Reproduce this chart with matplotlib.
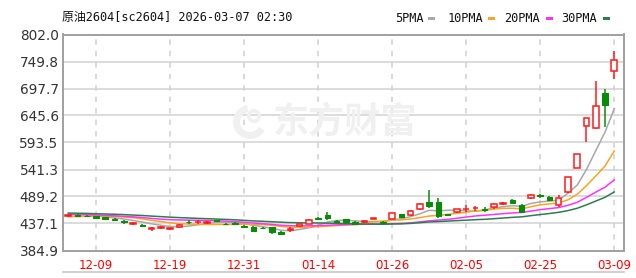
import numpy as np
import pandas as pd
import matplotlib
matplotlib.use("Agg")
import matplotlib.pyplot as plt
from matplotlib.patches import Rectangle, Arc, Wedge

# ---------------- data ----------------
title = "原油2604[sc2604] 2026-03-07 02:30"
tick_labels = ["12-09", "12-19", "12-31", "01-14", "01-26", "02-05", "02-25", "03-09"]
tick_index = [3, 11, 19, 27, 35, 43, 51, 59]
y_ticks = [384.9, 437.1, 489.2, 541.3, 593.5, 645.6, 697.7, 749.8, 802.0]

# closes before the visible window (needed for the moving averages)
prior_close = [463, 460, 465, 462, 458, 461, 464, 459, 462, 461,
               458, 462, 460, 463, 459, 461, 457, 460, 462, 458,
               449, 446, 445, 448, 447,
               450, 452, 455, 456]

opens = [451, 453, 452, 451, 449, 445, 441, 436.5, 434, 426.5,
         429, 426.5, 430.5, 440.5, 439.5, 438, 443, 437, 438, 432,
         431, 428.5, 429.5, 421, 425, 432, 437, 446, 454, 442,
         445, 439.5, 440, 445.5, 439, 446, 455, 453, 465, 478,
         478, 455, 458.5, 464.5, 466.5, 464.5, 468, 474.5, 483, 473,
         486, 491, 489, 473, 497, 545, 625, 621, 689, 731.5]
highs = [454, 455, 454, 452, 450, 447, 443, 439, 437, 430,
         432, 428, 436, 443, 443, 441, 444, 438, 440, 434,
         432, 430, 431, 423, 430, 437, 446, 449, 459, 444,
         446, 441, 444, 447, 441, 458, 456, 463, 476, 502,
         486, 456, 466, 472, 471, 469, 477, 479, 485, 475,
         494, 494, 490, 492, 527, 572, 641, 712, 696, 771]
lows = [450, 450, 449, 446, 443, 442, 437, 435, 430, 423,
        427, 425, 429, 437, 437, 437, 440, 434, 435, 430,
        421, 426, 416, 415, 421, 431, 436, 443, 443, 439,
        437, 435, 438, 445, 436, 445, 447, 451, 464, 467,
        448, 452, 457, 459, 462, 459, 466, 473, 475, 457,
        485, 487, 482, 469, 495, 544, 595, 620, 622.7, 717]
closes = [453, 452, 451, 448, 445, 444, 440, 437.5, 433, 427.5,
          430.5, 427.5, 435, 439.5, 440.5, 440, 441, 435.5, 437, 431,
          423.5, 428, 420, 417.5, 426, 436, 444, 445.5, 448, 440.5,
          439.5, 436.5, 441.5, 446.5, 438, 456.5, 449, 461.5, 474.5, 471,
          452, 453.5, 465, 465.5, 467.5, 463.5, 475, 475.5, 476, 460,
          492.5, 490, 483, 486, 526.5, 570.8, 640, 664, 665.5, 753]

ma_periods = [5, 10, 20, 30]
ma_names = ["5PMA", "10PMA", "20PMA", "30PMA"]
ma_colors = ["#a8a8a8", "#f5a623", "#ff33ff", "#2e7d4f"]

# ---------------- figure ----------------
W, H = 636, 278
fig = plt.figure(figsize=(W / 100, H / 100), dpi=100)
fig.patch.set_facecolor("white")
ax_l, ax_r, ax_t, ax_b = 62.7, 623.5, 34.5, 250.5
ax = fig.add_axes([ax_l / W, 1 - ax_b / H, (ax_r - ax_l) / W, (ax_b - ax_t) / H])

n = len(closes)
x = np.arange(n)
ax.set_xlim(-0.6, n - 1 + 1.0)
ax.set_ylim(y_ticks[0], y_ticks[-1])

# grid
for yv in y_ticks[1:-1]:
    ax.axhline(yv, color="#dcdcdc", lw=1.4, zorder=0)
for xi in tick_index:
    ax.axvline(xi, color="#cfcfcf", lw=1.1, ls=(0, (3.5, 4)), zorder=0)

# watermark (text + simple swoosh logo)
fig.text(345 / W, 1 - 122 / H, "东方财富", family=["Noto Sans CJK SC"], fontsize=26,
         fontweight="bold", color="#f0f0f0", ha="center", va="center", zorder=0)
cx, cy = 250 / W, 1 - 122 / H
fig.patches.append(Wedge((250, H - 122), 17, 100, 330, width=7,
                         transform=None, facecolor="#f0f0f0", edgecolor="none", zorder=0))
fig.patches.append(Wedge((254, H - 116), 7, 0, 360, width=3.5,
                         transform=None, facecolor="#f0f0f0", edgecolor="none", zorder=0))

# moving averages
all_close = pd.Series(list(prior_close) + list(closes), dtype=float)
for p, nm, col in zip(ma_periods, ma_names, ma_colors):
    ma = all_close.rolling(p, min_periods=1).mean().values[len(prior_close):]
    ax.plot(x, ma, color=col, lw=1.1, zorder=2)

# candles
bw = 0.6
min_h = 1.2
for i in range(n):
    o, h, l, c = opens[i], highs[i], lows[i], closes[i]
    up = c >= o
    col = "#ff1a1a" if up else "#0a8a0a"
    ax.vlines(i, l, h, color=col, lw=1.1, zorder=3)
    bot = min(o, c)
    hh = max(abs(c - o), min_h)
    if up:
        ax.add_patch(Rectangle((i - bw / 2, bot), bw, hh, facecolor="white",
                               edgecolor=col, lw=1.1, zorder=4))
    else:
        ax.add_patch(Rectangle((i - bw / 2, bot), bw, hh, facecolor=col,
                               edgecolor=col, lw=0.8, zorder=4))

# axes styling
for s in ax.spines.values():
    s.set_color("#a0a0a0")
    s.set_linewidth(1.4)
ax.set_yticks(y_ticks)
ax.set_yticklabels([f"{v:.1f}" for v in y_ticks], fontsize=9.8, color="#333333",
                   family="DejaVu Sans")
ax.set_xticks(tick_index)
ax.set_xticklabels(tick_labels, fontsize=8.5, color="#ff0000", family="DejaVu Sans")
ax.tick_params(axis="both", length=0)
ax.tick_params(axis="y", pad=3)
ax.tick_params(axis="x", pad=6)

# bottom separator line
fig.lines.append(plt.Line2D([ax_l / W, ax_r / W], [1 - 272 / H, 1 - 272 / H],
                            transform=fig.transFigure, color="#c8c8c8", lw=1.2))

# title
fig.text(62 / W, 1 - 18 / H, title, family=["DejaVu Sans Mono", "Noto Sans CJK SC"],
         fontsize=8.6, color="#111111", ha="left", va="center")

# legend
leg_x = [395, 447.7, 504, 561.7]
sw_x = [428, 488, 546, 603]
for lx, sx, nm, col in zip(leg_x, sw_x, ma_names, ma_colors):
    fig.text(lx / W, 1 - 18 / H, nm, family=["DejaVu Sans Mono"], fontsize=8.6,
             color="#111111", ha="left", va="center")
    fig.patches.append(Rectangle((sx / W, 1 - 20 / H), 7 / W, 3 / H,
                                 transform=fig.transFigure, facecolor=col,
                                 edgecolor="none"))

fig.savefig("out.png", dpi=100, facecolor="white")
